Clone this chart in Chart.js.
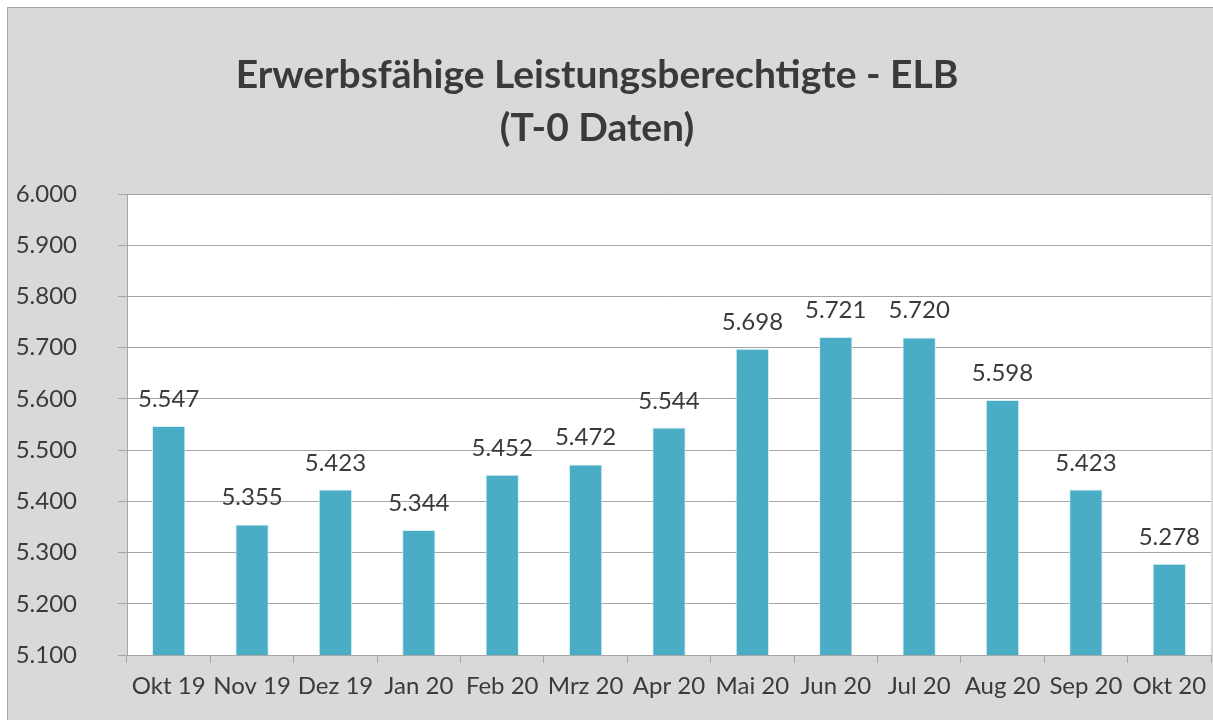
<!DOCTYPE html>
<html>
<head>
<meta charset="utf-8">
<script src="https://cdn.jsdelivr.net/npm/chart.js@4/dist/chart.umd.min.js"></script>
<style>
  html, body { margin: 0; padding: 0; background: #fff; }
  #wrap { width: 1213px; height: 720px; position: relative; }
</style>
</head>
<body>
<div id="wrap"><canvas id="elbChart" width="1213" height="720"></canvas></div>
<script>
// data
const months = ['Okt 19', 'Nov 19', 'Dez 19', 'Jan 20', 'Feb 20', 'Mrz 20', 'Apr 20',
  'Mai 20', 'Jun 20', 'Jul 20', 'Aug 20', 'Sep 20', 'Okt 20'];
const elbValues = [5547, 5355, 5423, 5344, 5452, 5472, 5544, 5698, 5721, 5720, 5598, 5423, 5278];
const titleLines = ['Erwerbsfähige Leistungsberechtigte - ELB', '(T-0 Daten)'];
const yMin = 5100, yMax = 6000, yStep = 100;

const FONT = 'Lato, "Open Sans", sans-serif';
const TEXT = '#3a3a3a';

// 5100 -> "5.100"
function fmt(v) {
  return String(Math.round(v)).replace(/\B(?=(\d{3})+(?!\d))/g, '.');
}

// grey frame + title
const frame = {
  id: 'frame',
  beforeDraw(chart) {
    const c = chart.ctx;
    c.save();
    c.fillStyle = '#ffffff';
    c.fillRect(0, 0, chart.width, chart.height);
    c.fillStyle = '#d9d9d9';
    c.fillRect(7, 7, chart.width, chart.height);
    c.strokeStyle = '#a6a6a6';
    c.lineWidth = 1;
    c.strokeRect(7.5, 7.5, chart.width + 10, chart.height + 10);
    const a = chart.chartArea;
    c.fillStyle = '#ffffff';
    c.fillRect(a.left, a.top, a.right - a.left, a.bottom - a.top);
    c.fillStyle = TEXT;
    c.font = 'bold 39px ' + FONT;
    c.textAlign = 'center';
    c.textBaseline = 'middle';
    c.fillText(titleLines[0], 597, 75);
    c.fillText(titleLines[1], 597, 128);
    c.restore();
  }
};

// value labels above the bars
const valueLabels = {
  id: 'valueLabels',
  afterDatasetsDraw(chart) {
    const c = chart.ctx;
    const meta = chart.getDatasetMeta(0);
    c.save();
    c.fillStyle = TEXT;
    c.font = '24px ' + FONT;
    c.textAlign = 'center';
    c.textBaseline = 'alphabetic';
    meta.data.forEach((bar, i) => {
      c.fillText(fmt(elbValues[i]), bar.x, bar.y - 19);
    });
    c.restore();
  }
};

const ctx = document.getElementById('elbChart').getContext('2d');
new Chart(ctx, {
  type: 'bar',
  data: {
    labels: months,
    datasets: [{
      data: elbValues,
      backgroundColor: '#4bacc6',
      borderColor: '#d6eef4',
      borderWidth: { left: 1, right: 1, top: 1, bottom: 0 },
      barPercentage: 0.4,
      categoryPercentage: 1.0
    }]
  },
  options: {
    responsive: false,
    animation: false,
    layout: { padding: { top: 194, right: 2, left: 0, bottom: 0 } },
    plugins: {
      legend: { display: false },
      tooltip: { enabled: false },
      title: { display: false }
    },
    scales: {
      x: {
        grid: {
          offset: true,
          drawOnChartArea: false,
          drawTicks: true,
          tickLength: 8,
          color: '#a6a6a6'
        },
        border: { color: '#a6a6a6' },
        ticks: {
          color: TEXT,
          font: { family: FONT, size: 24 },
          padding: 9,
          maxRotation: 0,
          autoSkip: false
        },
        afterFit: s => { s.height = 65; s.paddingLeft = 0; s.paddingRight = 0; }
      },
      y: {
        min: yMin,
        max: yMax,
        grid: {
          color: '#a6a6a6',
          tickLength: 9
        },
        border: { color: '#a6a6a6' },
        ticks: {
          stepSize: yStep,
          color: TEXT,
          font: { family: FONT, size: 24 },
          padding: 41,
          callback: v => fmt(v)
        },
        afterFit: s => { s.width = 127; s.paddingTop = 0; s.paddingBottom = 0; }
      }
    }
  },
  plugins: [frame, valueLabels]
});
</script>
</body>
</html>
